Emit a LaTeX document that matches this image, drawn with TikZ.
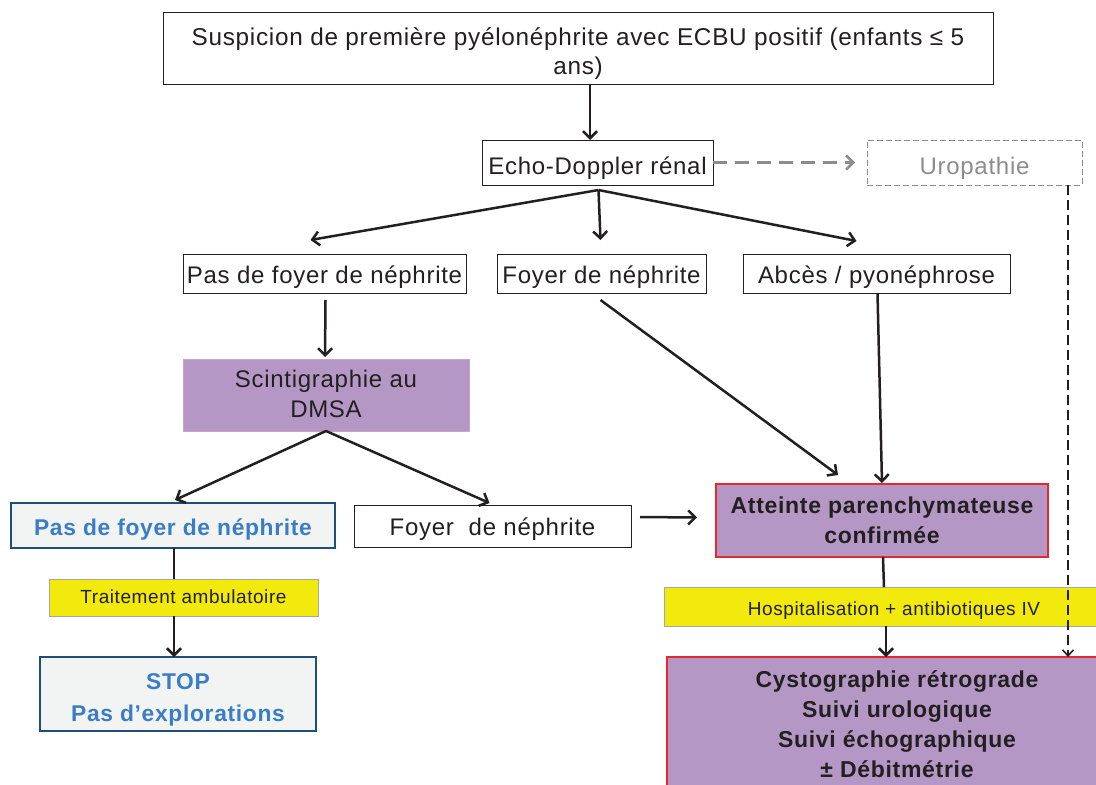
\documentclass[tikz,border=0pt]{standalone}
\usepackage{fontspec}
\setmainfont{Liberation Sans}[LetterSpace=3]
\usetikzlibrary{arrows.meta,calc}
\definecolor{purp}{RGB}{181,151,198}
\definecolor{yel}{RGB}{242,234,12}
\definecolor{bborder}{RGB}{31,78,121}
\definecolor{btext}{RGB}{59,125,196}
\definecolor{rborder}{RGB}{232,38,43}
\definecolor{gfill}{RGB}{242,243,243}
\definecolor{dgray}{RGB}{140,140,140}
\definecolor{txt}{RGB}{35,31,32}
\newcommand\dn[2]{\raisebox{-#1pt}[\height][\depth]{\begin{tabular}{@{}c@{}}#2\end{tabular}}}
\begin{document}
\begin{tikzpicture}[x=1pt,y=-1pt,
  box/.style={draw=txt,line width=1pt,fill=white,inner sep=0pt,outer sep=0pt,align=center,text=txt,font=\fontsize{24}{29}\selectfont},
  mbox/.style={box,font=\fontsize{24}{29}\selectfont},
  pbox/.style={box,fill=purp,draw=purp!70!pink},
  rbox/.style={box,fill=purp,draw=rborder,line width=1.5pt,font=\fontsize{23}{30}\selectfont\bfseries},
  bbox/.style={box,fill=gfill,draw=bborder,line width=1.5pt,text=btext,font=\fontsize{22.8}{32}\selectfont\bfseries},
  ybar/.style={box,fill=yel,draw=gray!70,line width=0.8pt,font=\fontsize{19}{22}\selectfont},
  arr/.style={draw=txt,line width=2.5pt,-{Straight Barb[length=7pt,width=14pt]}},
  ln/.style={draw=txt,line width=2.5pt},
  garr/.style={draw=dgray,line width=2.5pt,dash pattern=on 14pt off 8pt,-{Straight Barb[length=7pt,width=14pt]}},
  darr/.style={draw=txt,line width=1.6pt,dash pattern=on 10pt off 5pt,-{Straight Barb[length=6pt,width=11pt]}},
]
\useasboundingbox (0,0) rectangle (1096,785);
% nodes
\node[box,minimum width=830,minimum height=72,font=\fontsize{24.3}{29}\selectfont] (top) at (578,48) {\dn{6}{Suspicion de première pyélonéphrite avec ECBU positif (enfants ≤ 5\\ans)}};
\node[mbox,minimum width=231,minimum height=45] (echo) at (597.5,162.5) {\dn{6}{Echo-Doppler rénal}};
\node[mbox,draw=dgray,dash pattern=on 6pt off 3pt,text=dgray,minimum width=215,minimum height=45] (uro) at (974.5,162.5) {\dn{6}{Uropathie}};
\node[mbox,minimum width=283,minimum height=39] (pas1) at (324.5,273.5) {\dn{4}{Pas de foyer de néphrite}};
\node[mbox,minimum width=209,minimum height=39] (foy1) at (601.5,273.5) {\dn{4}{Foyer de néphrite}};
\node[mbox,minimum width=267,minimum height=39] (abc) at (876.5,273.5) {\dn{4}{Abcès / pyonéphrose}};
\node[pbox,minimum width=286,minimum height=72,font=\fontsize{24}{30}\selectfont] (scin) at (326,395) {\dn{1.5}{Scintigraphie au\\DMSA}};
\node[bbox,minimum width=324,minimum height=45] (pas2) at (173,525.5) {\dn{4}{Pas de foyer de néphrite}};
\node[mbox,minimum width=277,minimum height=42] (foy2) at (492.5,526) {\dn{4}{Foyer~~de néphrite}};
\node[rbox,minimum width=332,minimum height=73] (att) at (882,520.5) {\dn{2}{Atteinte parenchymateuse\\confirmée}};
\node[ybar,minimum width=269,minimum height=37] (trait) at (183.5,597.5) {\dn{2}{Traitement ambulatoire}};
\node[bbox,minimum width=276,minimum height=74] (stop) at (178,694) {\dn{5}{STOP\\Pas d’explorations}};
\node[ybar,minimum width=460,minimum height=39] (hosp) at (894,606.5) {\dn{5}{Hospitalisation + antibiotiques IV}};
\node[rbox,minimum width=460,anchor=north,inner ysep=9pt] (cyst) at (897,657) {\dn{0}{Cystographie rétrograde\\Suivi urologique\\Suivi échographique\\± Débitmétrie}};
% connectors
\draw[arr] (top.south -| 590,0) -- (echo.north -| 590,0);
\draw[garr] (echo.east) -- ($(uro.west)+(-12,0)$);
\coordinate (es) at ($(echo.south)+(1,5)$);
\draw[arr] (es) -- ($(pas1.north)+(-14,-14)$);
\draw[arr] (es) -- ($(foy1.north)+(-1,-14)$);
\draw[arr] (es) -- ($(abc.north)+(-20,-13)$);
\draw[arr] ($(pas1.south)+(1,7)$) -- ($(scin.north)+(-1,-2)$);
\draw[arr] (scin.south) -- ($(pas2.north)+(2,-3)$);
\draw[arr] (scin.south) -- ($(foy2.north)+(-3,-2)$);
\draw[arr] ($(foy2.east)+(9,-9)$) -- ($(att.west)+(-19,-3)$);
\draw[arr] ($(foy1.south)+(-1,7)$) -- ($(att.north)+(-44,-9)$);
\draw[arr] ($(abc.south)+(1,0)$) -- ($(att.north)+(0,-1)$);
\draw[ln] (pas2.south -| 174,0) -- (trait.north -| 174,0);
\draw[arr] (trait.south -| 174,0) -- (stop.north -| 174,0);
\draw[ln] (att.south -| 883,0) -- (hosp.north -| 884,0);
\draw[arr] (hosp.south -| 886,0) -- (cyst.north -| 886,0);
\coordinate (ud) at ($(uro.south east)+(-14,0)$);
\draw[darr] (ud) -- (ud |- cyst.north);
\end{tikzpicture}
\end{document}
